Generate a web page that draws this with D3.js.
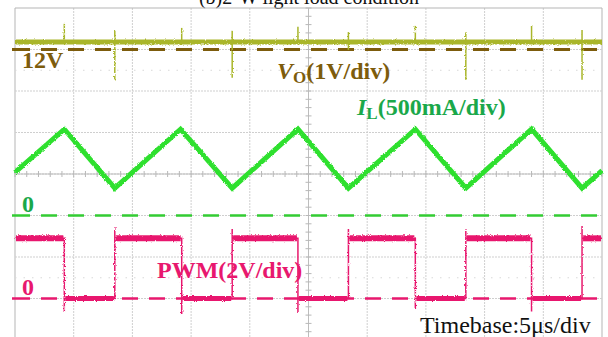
<!DOCTYPE html>
<html>
<head>
<meta charset="utf-8">
<script src="https://cdn.jsdelivr.net/npm/d3@7"></script>
<style>
  body { margin: 0; background: #fff; }
  svg { display: block; }
</style>
</head>
<body>
<div id="chart"></div>
<script>
// scope screen: 10 div x 5us, 8 div vertical
var timeDomain = [0, 50];
var divDomain = [-4, 4];
var xGridDivs = d3.range(0, 11);
var yGridDivs = d3.range(-4, 5);

// PWM edges (us) and levels (V), 2V/div, ground at -3 div
var pwmTimes  = [0, 4.2, 8.5, 14.2, 18.5, 24.1, 28.4, 34.1, 38.4, 44.0, 48.3, 50];
var pwmLevels = [2.9, 0, 2.9, 0, 2.9, 0, 2.9, 0, 2.9, 0, 2.9, 2.9];
var pwmPeaks  = [null, -0.65, 3.45, -0.75, 3.35, -0.7, 3.35, -0.5, 3.35, -0.63, 3.5, null];

// inductor current (A), 500mA/div, zero at -1 div
var ilTimes  = [0, 4.2, 8.5, 14.1, 18.5, 24.1, 28.4, 34.1, 38.4, 44.0, 48.3, 50];
var ilValues = [0.52, 1.04, 0.33, 1.04, 0.33, 1.04, 0.33, 1.04, 0.33, 1.04, 0.33, 0.54];

// output voltage (V), 1V/div, 12V at +3 div
var voLevel = 12.18;
var voSpikeTimes = [4.2, 8.5, 14.2, 18.5, 24.1, 28.4, 34.1, 38.4, 44.0, 48.3];
var voSpikeTop   = [12.62, 12.45, 12.52, 12.45, 12.55, 12.42, 12.57, 12.42, 12.57, 12.47];
var voSpikeLow   = [12.18, 11.27, 12.18, 11.32, 12.18, 11.99, 12.18, 11.27, 12.18, 11.27];

var channels = {
  vo:  { ref: 12, offset: 3,  perDiv: 1 },
  il:  { ref: 0,  offset: -1, perDiv: 0.5 },
  pwm: { ref: 0,  offset: -3, perDiv: 2 }
};

(function () {
  var width = 608, height = 337;
  var pLeft = 15, pRight = 602, pTop = 8, pBottom = 340;

  var svg = d3.select("#chart").append("svg")
    .attr("width", width)
    .attr("height", height);

  var x = d3.scaleLinear().domain(timeDomain).range([pLeft, pRight]);
  var xDiv = d3.scaleLinear().domain([0, 10]).range([pLeft, pRight]);
  var yDiv = d3.scaleLinear().domain(divDomain).range([pBottom, pTop]);

  function yOf(ch, v) {
    var c = channels[ch];
    return yDiv(c.offset + (v - c.ref) / c.perDiv);
  }

  // noise look for traces
  var defs = svg.append("defs");
  var f = defs.append("filter").attr("id", "noise")
    .attr("x", "-5%").attr("y", "-20%").attr("width", "110%").attr("height", "140%");
  f.append("feTurbulence").attr("type", "fractalNoise")
    .attr("baseFrequency", 0.9).attr("numOctaves", 1).attr("seed", 4).attr("result", "t");
  f.append("feDisplacementMap").attr("in", "SourceGraphic").attr("in2", "t")
    .attr("scale", 3).attr("xChannelSelector", "R").attr("yChannelSelector", "G");

  // title, cut off at top like the source
  svg.append("text")
    .attr("x", 309).attr("y", 4)
    .attr("text-anchor", "middle")
    .style("font-family", "'Liberation Serif', serif")
    .style("font-size", "20px")
    .attr("fill", "#111")
    .text("(b)2-W light load condition");

  // graticule
  var grid = svg.append("g");
  grid.selectAll(".vg").data(xGridDivs).enter().append("line")
    .attr("x1", d => xDiv(d)).attr("x2", d => xDiv(d))
    .attr("y1", pTop).attr("y2", pBottom)
    .attr("stroke", d => (d == 0 || d == 10) ? "#b5b5b5" : "#cfcfcf")
    .attr("stroke-dasharray", d => (d == 0 || d == 10) ? null : "2,1")
    .attr("stroke-width", 1);
  grid.selectAll(".hg").data(yGridDivs).enter().append("line")
    .attr("x1", pLeft).attr("x2", pRight)
    .attr("y1", d => yDiv(d)).attr("y2", d => yDiv(d))
    .attr("stroke", d => d == 4 ? "#b5b5b5" : "#cfcfcf")
    .attr("stroke-dasharray", d => d == 4 ? null : "2,1")
    .attr("stroke-width", 1);
  // faint half-div dots
  grid.selectAll(".hd").data([2.5, -2.5]).enter().append("line")
    .attr("x1", pLeft).attr("x2", pRight)
    .attr("y1", d => yDiv(d)).attr("y2", d => yDiv(d))
    .attr("stroke", "#d8d8d8")
    .attr("stroke-dasharray", "1.5,7");

  // center cross with minor ticks
  grid.append("line")
    .attr("x1", xDiv(5)).attr("x2", xDiv(5))
    .attr("y1", pTop).attr("y2", pBottom)
    .attr("stroke", "#bdbdbd");
  grid.append("line")
    .attr("x1", pLeft).attr("x2", pRight)
    .attr("y1", yDiv(0)).attr("y2", yDiv(0))
    .attr("stroke", "#bdbdbd");
  var xMinor = d3.range(0, 50.01, 1);
  grid.selectAll(".xt").data(xMinor).enter().append("line")
    .attr("x1", d => x(d)).attr("x2", d => x(d))
    .attr("y1", yDiv(0) - 3).attr("y2", yDiv(0) + 3)
    .attr("stroke", "#b8b8b8");
  var yMinor = d3.range(-4, 4.01, 0.2);
  grid.selectAll(".yt").data(yMinor).enter().append("line")
    .attr("x1", xDiv(5) - 3).attr("x2", xDiv(5) + 3)
    .attr("y1", d => yDiv(d)).attr("y2", d => yDiv(d))
    .attr("stroke", "#b8b8b8");

  // reference lines
  var refs = [
    { ch: "vo",  color: "#7d5c0c", w: 3 },
    { ch: "il",  color: "#33cc33", w: 2.5 },
    { ch: "pwm", color: "#e8186e", w: 2.5 }
  ];
  refs.forEach(function (r) {
    var yy = yOf(r.ch, channels[r.ch].ref);
    svg.append("line")
      .attr("x1", 12).attr("x2", 30).attr("y1", yy).attr("y2", yy)
      .attr("stroke", r.color).attr("stroke-width", r.w);
    svg.append("line")
      .attr("x1", 41).attr("x2", width).attr("y1", yy).attr("y2", yy)
      .attr("stroke", r.color).attr("stroke-width", r.w)
      .attr("stroke-dasharray", "16,11");
  });

  // Vo trace
  var vo = svg.append("g").attr("filter", "url(#noise)");
  vo.append("line")
    .attr("x1", x(0)).attr("x2", x(50))
    .attr("y1", yOf("vo", voLevel)).attr("y2", yOf("vo", voLevel))
    .attr("stroke", "#a9b62a").attr("stroke-width", 5);
  vo.selectAll(".sp").data(voSpikeTimes).enter().append("line")
    .attr("x1", d => x(d)).attr("x2", d => x(d))
    .attr("y1", (d, i) => yOf("vo", voSpikeTop[i]))
    .attr("y2", (d, i) => yOf("vo", voSpikeLow[i]))
    .attr("stroke", "#a9b62a").attr("stroke-width", 1.5);

  // IL trace
  var ilLine = d3.line()
    .x((d, i) => x(ilTimes[i]))
    .y(d => yOf("il", d));
  svg.append("path")
    .attr("d", ilLine(ilValues))
    .attr("fill", "none")
    .attr("stroke", "#2fe02f")
    .attr("stroke-width", 5)
    .attr("stroke-linejoin", "miter")
    .attr("filter", "url(#noise)");

  // PWM trace
  var pwm = svg.append("g").attr("filter", "url(#noise)");
  var pwmPts = [];
  pwmTimes.forEach(function (t, i) {
    if (i > 0 && i < pwmTimes.length - 1) {
      pwmPts.push([t, pwmLevels[i - 1]]);
      pwmPts.push([t, pwmPeaks[i]]);
    }
    pwmPts.push([t, pwmLevels[i]]);
  });
  pwm.append("path")
    .attr("d", d3.line().x(d => x(d[0])).y(d => yOf("pwm", d[1]))(pwmPts))
    .attr("fill", "none")
    .attr("stroke", "#e8186e")
    .attr("stroke-width", 1.5);
  pwm.selectAll(".lv").data(pwmTimes.slice(0, -1)).enter().append("line")
    .attr("x1", d => x(d) + 1)
    .attr("x2", (d, i) => x(pwmTimes[i + 1]) - 1)
    .attr("y1", (d, i) => yOf("pwm", pwmLevels[i]))
    .attr("y2", (d, i) => yOf("pwm", pwmLevels[i]))
    .attr("stroke", "#e8186e")
    .attr("stroke-width", (d, i) => pwmLevels[i] > 0 ? 6 : 5);

  // labels
  function label(txt, xx, yy, color, size, weight) {
    return svg.append("text")
      .attr("x", xx).attr("y", yy)
      .style("font-family", "'Liberation Serif', serif")
      .style("font-size", size + "px")
      .style("font-weight", weight)
      .attr("fill", color)
      .text(txt);
  }
  label("12V", 22, 68, "#7d5c0c", 24, "bold");

  var voLbl = svg.append("text").attr("x", 277).attr("y", 79)
    .style("font-family", "'Liberation Serif', serif")
    .style("font-size", "24px").style("font-weight", "bold")
    .attr("fill", "#7d5c0c");
  voLbl.append("tspan").style("font-style", "italic").text("V");
  voLbl.append("tspan").attr("dy", 4).style("font-size", "17px").text("O");
  voLbl.append("tspan").attr("dy", -4).text("(1V/div)");

  var ilLbl = svg.append("text").attr("x", 357).attr("y", 115)
    .style("font-family", "'Liberation Serif', serif")
    .style("font-size", "24px").style("font-weight", "bold")
    .attr("fill", "#1aa84a");
  ilLbl.append("tspan").style("font-style", "italic").text("I");
  ilLbl.append("tspan").attr("dy", 4).style("font-size", "17px").text("L");
  ilLbl.append("tspan").attr("dy", -4).text("(500mA/div)");

  label("0", 22, 212, "#1aa84a", 24, "bold");
  label("PWM(2V/div)", 157, 278, "#e8186e", 24, "bold");
  label("0", 22, 295, "#e8186e", 24, "bold");
  label("Timebase:5\u03bcs/div", 420, 333, "#111", 24, "normal");
})();
</script>
</body>
</html>
